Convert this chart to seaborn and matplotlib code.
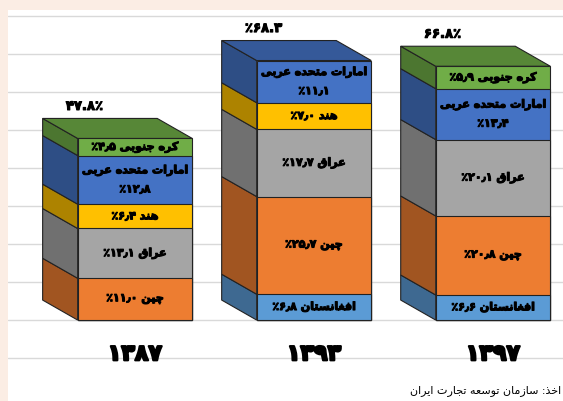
import re
import numpy as np
import pandas as pd
import matplotlib
matplotlib.use('Agg')
import matplotlib.pyplot as plt
import matplotlib.patheffects as pe
from matplotlib.patches import Polygon
from matplotlib.colors import to_rgb
import seaborn as sns

sns.set_theme(style="whitegrid")
plt.rcParams['font.family'] = ['DejaVu Sans']

# data (shares in percent, stacking order bottom -> top)
years = ['۱۳۸۷', '۱۳۹۳', '۱۳۹۷']
countries = ['افغانستان', 'چین', 'عراق', 'هند', 'امارات متحده عربی', 'کره جنوبی']
share_1387 = [np.nan, 11.0, 13.1, 6.4, 12.8, 4.5]
share_1393 = [6.8, 25.7, 17.7, 7.0, 11.1, np.nan]
share_1397 = [6.6, 20.8, 20.1, np.nan, 13.4, 5.9]
total_labels = ['۴۷.۸٪', '٪۶۸.۳', '۶۶.۸٪']
source_text = 'اخذ: سازمان توسعه تجارت ایران'
colors = ['#5B9BD5', '#ED7D31', '#A5A5A5', '#FFC000', '#4472C4', '#70AD47']

# minimal persian shaping (matplotlib has no arabic shaping / bidi)
DUAL = {'ب': 0xFE8F, 'ت': 0xFE95, 'ج': 0xFE9D, 'چ': 0xFB7A, 'ح': 0xFEA1, 'خ': 0xFEA5,
        'س': 0xFEB1, 'ع': 0xFEC9, 'غ': 0xFECD, 'ف': 0xFED1, 'ق': 0xFED5, 'ک': 0xFB8E,
        'م': 0xFEE1, 'ن': 0xFEE5, 'ه': 0xFEE9, 'ی': 0xFBFC}
RIGHT = {'ا': 0xFE8D, 'د': 0xFEA9, 'ذ': 0xFEAB, 'ر': 0xFEAD, 'ز': 0xFEAF, 'و': 0xFEED}


def shape(s):
    out = []
    for i, ch in enumerate(s):
        base = DUAL.get(ch, RIGHT.get(ch))
        if base is None:
            out.append(ch)
            continue
        prev = s[i - 1] if i > 0 else ''
        nxt = s[i + 1] if i + 1 < len(s) else ''
        jp = prev in DUAL
        jn = ch in DUAL and (nxt in DUAL or nxt in RIGHT)
        k = 3 if (jp and jn) else 1 if jp else 2 if jn else 0
        out.append(chr(base + k))
    return ''.join(out)


def fa(s):
    runs = re.findall(r'[\u06F0-\u06F9٫.]+|[^\u06F0-\u06F9٫.]+', shape(s))
    return ''.join(r if re.match(r'[\u06F0-\u06F9]', r) else r[::-1] for r in reversed(runs))


def fa_num(v):
    return f'{v:.1f}'.translate(str.maketrans('0123456789.', '۰۱۲۳۴۵۶۷۸۹٫'))


def shade(col, f):
    r, g, b = to_rgb(col)
    return (r * f, g * f, b * f)


rows = []
for y, shares in zip(years, [share_1387, share_1393, share_1397]):
    for c, v in zip(countries, shares):
        if not np.isnan(v):
            rows.append((y, c, v))
df = pd.DataFrame(rows, columns=['year', 'country', 'share'])
df['top'] = df.groupby('year')['share'].cumsum()
df['bottom'] = df['top'] - df['share']

fig = plt.figure(figsize=(5.63, 4.01), dpi=100, facecolor='#FBEDE4')
ax = fig.add_axes([8 / 563, 0, 555 / 563, 391 / 401])
ax.set_facecolor('white')

W = 0.64
EDGE = '#222222'
for c, col in reversed(list(zip(countries, colors))):
    sns.barplot(data=df[df['country'] == c], x='year', y='top', order=years,
                color=col, saturation=1, width=W, errorbar=None,
                edgecolor=EDGE, linewidth=0.8, ax=ax)

ax.set_xlim(-0.709, 2.391)
ax.set_ylim(-21.3, 81.6)
ax.set_yticks(np.arange(-10, 81, 10))
ax.set_xticks([])
ax.tick_params(left=False, labelleft=False)
ax.set_xlabel('')
ax.set_ylabel('')
ax.grid(axis='y', color='#D9D9D9', lw=1)
ax.set_axisbelow(True)
for s in ax.spines.values():
    s.set_visible(False)

heavy = [pe.withStroke(linewidth=0.8, foreground='black')]
heavy_big = [pe.withStroke(linewidth=1.6, foreground='black')]

# fake 3d: side faces and top face
to_px = ax.transData.transform
to_data = ax.transData.inverted().transform
depth = np.array([-35, 20])
for i, y in enumerate(years):
    seg = df[df['year'] == y]
    xl, xr = i - W / 2, i + W / 2
    for _, r in seg.iterrows():
        col = colors[countries.index(r['country'])]
        front = to_px([(xl, r['bottom']), (xl, r['top'])])
        side = np.vstack([front, front[::-1] + depth])
        ax.add_patch(Polygon(to_data(side), closed=True, fc=shade(col, 0.68),
                             ec=EDGE, lw=0.8, zorder=2))
    last = seg.iloc[-1]
    col = colors[countries.index(last['country'])]
    edge = to_px([(xl, last['top']), (xr, last['top'])])
    topface = np.vstack([edge, edge[::-1] + depth])
    ax.add_patch(Polygon(to_data(topface), closed=True, fc=shade(col, 0.78),
                         ec=EDGE, lw=0.8, zorder=2))

    for _, r in seg.iterrows():
        num = fa_num(r['share']) + '٪'
        if len(r['country']) > 10:
            txt = fa(r['country']) + '\n' + fa(num)
        else:
            txt = fa(r['country'] + ' ' + num)
        ax.text(i, (r['bottom'] + r['top']) / 2, txt, ha='center', va='center',
                fontsize=8, fontweight='bold', color='black', linespacing=2.1,
                zorder=5, path_effects=heavy)

    ax.annotate(total_labels[i], xy=(xl, last['top']),
                xytext=(depth[0] + 42, depth[1] + 12), textcoords='offset pixels',
                ha='center', va='center', fontsize=9.5, fontweight='bold',
                color='black', zorder=5, path_effects=heavy)
    ax.text(i, -9, y, ha='center', va='center', fontsize=16, fontweight='bold',
            color='black', path_effects=heavy_big)

fig.text(0.997, 10 / 401, fa(source_text), ha='right', va='center', fontsize=8,
         color='black')

fig.savefig('out.png', dpi=100)
